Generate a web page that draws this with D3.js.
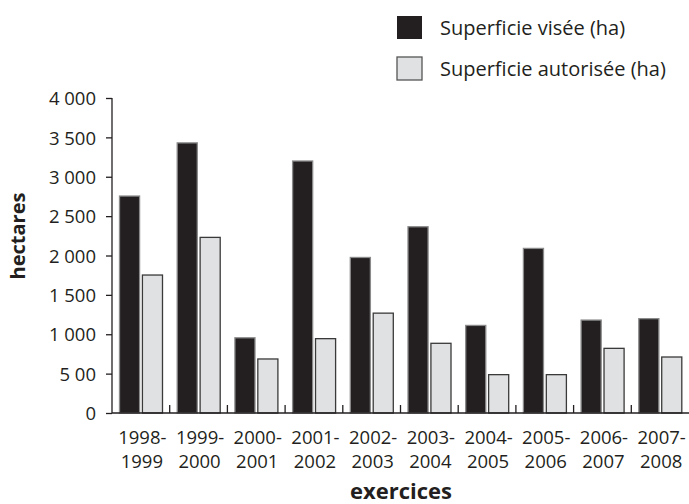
<!DOCTYPE html>
<html>
<head>
<meta charset="utf-8">
<script src="https://cdn.jsdelivr.net/npm/d3@7"></script>
<style>
  html, body { margin: 0; padding: 0; background: #fff; }
  svg { display: block; }
  text { font-family: "Open Sans", Lato, sans-serif; fill: #231f20; }
</style>
</head>
<body>
<svg id="chart" width="689" height="504"></svg>
<script>
const categories = [
  ["1998-", "1999"], ["1999-", "2000"], ["2000-", "2001"], ["2001-", "2002"],
  ["2002-", "2003"], ["2003-", "2004"], ["2004-", "2005"], ["2005-", "2006"],
  ["2006-", "2007"], ["2007-", "2008"]
];
const seriesNames = ["Superficie visée (ha)", "Superficie autorisée (ha)"];
const visee =     [2755, 3430, 955, 3200, 1975, 2365, 1112, 2090, 1180, 1198];
const autorisee = [1752, 2230, 686,  944, 1268,  885,  487,  487,  821,  711];
const yTicks = [0, 500, 1000, 1500, 2000, 2500, 3000, 3500, 4000];
const yTickLabels = ["0", "5 00", "1 000", "1 500", "2 000", "2 500", "3 000", "3 500", "4 000"];
const yTitle = "hectares";
const xTitle = "exercices";

const fills = ["#231f20", "#e0e1e2"];
const strokes = ["#8a8a8a", "#3a3a3a"];

const svg = d3.select("#chart");
const mLeft = 112, mRight = 689, mTop = 98, mBottom = 413;
const FONT = "'Open Sans', Lato, sans-serif";

const x0 = d3.scaleBand().domain(d3.range(categories.length)).range([mLeft, mRight]).padding(0);
const x1 = d3.scaleBand().domain([0, 1]).range([7, x0.bandwidth() - 6.7]).paddingInner(0.08);
const y = d3.scaleLinear().domain([0, 4000]).range([mBottom, mTop]);

// bars
const data = categories.map((c, i) => ({ i, vals: [visee[i], autorisee[i]] }));
const groups = svg.append("g").selectAll("g").data(data).join("g")
  .attr("transform", d => `translate(${x0(d.i)},0)`);
groups.selectAll("rect").data(d => d.vals.map((v, s) => ({ v, s }))).join("rect")
  .attr("x", d => x1(d.s) + 0.5)
  .attr("width", x1.bandwidth() - 1)
  .attr("y", d => y(d.v))
  .attr("height", d => y(0) - y(d.v))
  .attr("fill", d => fills[d.s])
  .attr("stroke", d => strokes[d.s])
  .attr("stroke-width", 1.3);

// y axis
const yAxis = d3.axisLeft(y).tickValues(yTicks)
  .tickFormat((d, i) => yTickLabels[i]).tickSize(6).tickPadding(10);
const gy = svg.append("g").attr("transform", `translate(${mLeft},0)`).call(yAxis);
gy.select(".domain").attr("stroke", "#231f20").attr("stroke-width", 1.3)
  .attr("d", `M0,${mTop}V${mBottom}`);
gy.selectAll(".tick line").attr("stroke", "#231f20").attr("stroke-width", 1.3);
gy.selectAll(".tick text").attr("font-size", 18.5).attr("fill", "#231f20")
  .attr("font-family", FONT).attr("dy", "0.36em");

// x axis baseline
svg.append("line").attr("x1", mLeft).attr("x2", mRight).attr("y1", mBottom).attr("y2", mBottom)
  .attr("stroke", "#231f20").attr("stroke-width", 1.5);
// x ticks at group boundaries
svg.append("g").selectAll("line").data(d3.range(1, categories.length)).join("line")
  .attr("x1", i => x0(i)).attr("x2", i => x0(i))
  .attr("y1", mBottom).attr("y2", mBottom - 8)
  .attr("stroke", "#231f20").attr("stroke-width", 1.3);

// x labels
const xl = svg.append("g").selectAll("text").data(categories).join("text")
  .attr("text-anchor", "middle").attr("font-size", 18.5);
xl.append("tspan").attr("x", (d, i) => x0(i) + x0.bandwidth() / 2 + 1.5).attr("y", 444).text(d => d[0]);
xl.append("tspan").attr("x", (d, i) => x0(i) + x0.bandwidth() / 2 + 1).attr("y", 468).text(d => d[1]);

// axis titles
svg.append("text").attr("x", 401).attr("y", 499).attr("text-anchor", "middle")
  .attr("font-size", 22).attr("font-weight", "bold").text(xTitle);
svg.append("text").attr("transform", "translate(25,236) rotate(-90)")
  .attr("text-anchor", "middle").attr("font-size", 20).attr("font-weight", "bold").text(yTitle);

// legend
const leg = svg.append("g").selectAll("g").data(seriesNames).join("g")
  .attr("transform", (d, i) => `translate(397,${16 + i * 41})`);
leg.append("rect").attr("width", 25).attr("height", 23)
  .attr("fill", (d, i) => fills[i])
  .attr("stroke", (d, i) => i === 0 ? "none" : "#555")
  .attr("stroke-width", 1.3);
leg.append("text").attr("x", 43).attr("y", 18.5).attr("font-size", 20).text(d => d);
</script>
</body>
</html>
